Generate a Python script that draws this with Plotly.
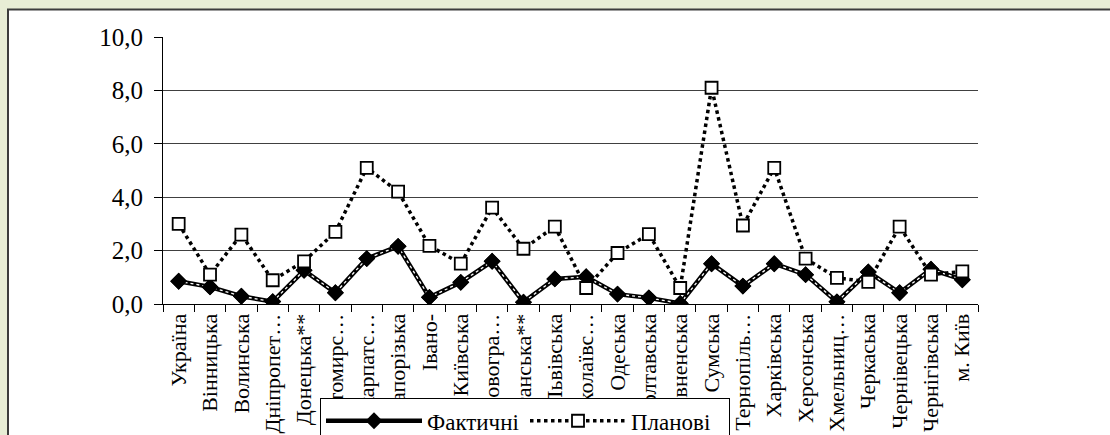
import plotly.graph_objects as go

categories = ["Україна", "Вінницька", "Волинська", "Дніпропет…", "Донецька**",
              "Житомирс…", "Закарпатс…", "Запорізька", "Івано-", "Київська",
              "Кіровогра…", "Луганська**", "Львівська", "Миколаївс…", "Одеська",
              "Полтавська", "Рівненська", "Сумська", "Тернопіль…", "Харківська",
              "Херсонська", "Хмельниц…", "Черкаська", "Чернівецька", "Чернігівська",
              "м. Київ"]
actual = [0.85, 0.64, 0.29, 0.09, 1.26, 0.42, 1.70, 2.16, 0.25, 0.81,
          1.60, 0.07, 0.94, 1.02, 0.37, 0.23, 0.02, 1.51, 0.67, 1.51,
          1.10, 0.08, 1.20, 0.42, 1.30, 0.91]
planned = [3.00, 1.10, 2.60, 0.89, 1.60, 2.70, 5.10, 4.21, 2.18, 1.51,
           3.61, 2.07, 2.90, 0.60, 1.91, 2.62, 0.60, 8.10, 2.94, 5.10,
           1.70, 0.98, 0.83, 2.90, 1.10, 1.22]
y_ticks = [0, 2, 4, 6, 8, 10]
y_tick_labels = ["0,0", "2,0", "4,0", "6,0", "8,0", "10,0"]

W, H = 1110, 435
L, R, T, B = 163, 132, 37, 130.5
pw, ph = W - L - R, H - T - B
BG = "#e8edd5"

def px(x):
    return (x - L) / pw

def py(y):
    return (H - B - y) / ph

FONT = "Liberation Serif, Times New Roman, serif"

fig = go.Figure()
fig.add_trace(go.Scatter(
    x=categories, y=actual, name="Фактичні", mode="lines+markers",
    line=dict(color="black", width=4.5),
    marker=dict(symbol="diamond", size=13, color="black"),
))
fig.add_trace(go.Scatter(
    x=categories, y=actual, mode="lines", showlegend=False, hoverinfo="skip",
    line=dict(color="white", width=1.3, dash="dot"),
))
fig.add_trace(go.Scatter(
    x=categories, y=actual, mode="markers", showlegend=False, hoverinfo="skip",
    marker=dict(symbol="diamond", size=13, color="black"),
))
fig.add_trace(go.Scatter(
    x=categories, y=planned, name="Планові", mode="lines+markers",
    line=dict(color="black", width=3.5, dash="dot"),
    marker=dict(symbol="square", size=12, color="white",
                line=dict(color="black", width=1.8)),
))

fig.update_layout(
    width=W, height=H,
    margin=dict(l=L, r=R, t=T, b=B, autoexpand=False),
    paper_bgcolor=BG,
    plot_bgcolor="white",
    font=dict(family=FONT, color="black", size=22),
    showlegend=True,
    legend=dict(
        orientation="h", x=px(320), xanchor="left", y=py(399), yanchor="top",
        bgcolor="white", bordercolor="black", borderwidth=1,
        font=dict(family=FONT, size=23, color="black"),
        entrywidth=93, itemwidth=96,
    ),
    shapes=[
        dict(type="rect", xref="paper", yref="paper", layer="below",
             x0=px(8), x1=px(1115), y0=py(445), y1=py(9.5),
             fillcolor="white", line=dict(color="#3c3c3c", width=2)),
    ],
)

fig.update_xaxes(
    type="category", showgrid=False, showline=True, linecolor="black", linewidth=1,
    ticks="outside", tickson="boundaries", ticklen=7, tickcolor="black",
    tickangle=-90, tickfont=dict(family=FONT, size=22, color="black"),
    range=[-0.5, len(categories) - 0.5],
)
fig.update_yaxes(
    range=[0, 10], tickvals=y_ticks, ticktext=y_tick_labels,
    showgrid=True, gridcolor="#404040", gridwidth=1,
    showline=True, linecolor="black", linewidth=1,
    ticks="outside", ticklen=8, tickcolor="black", ticklabelstandoff=6,
    tickfont=dict(family=FONT, size=25, color="black"),
    zeroline=False,
)

fig.write_html(
    "out.html",
    config={"displayModeBar": False},
    post_script="document.body.style.margin='0';document.body.style.background='" + BG + "';",
)
